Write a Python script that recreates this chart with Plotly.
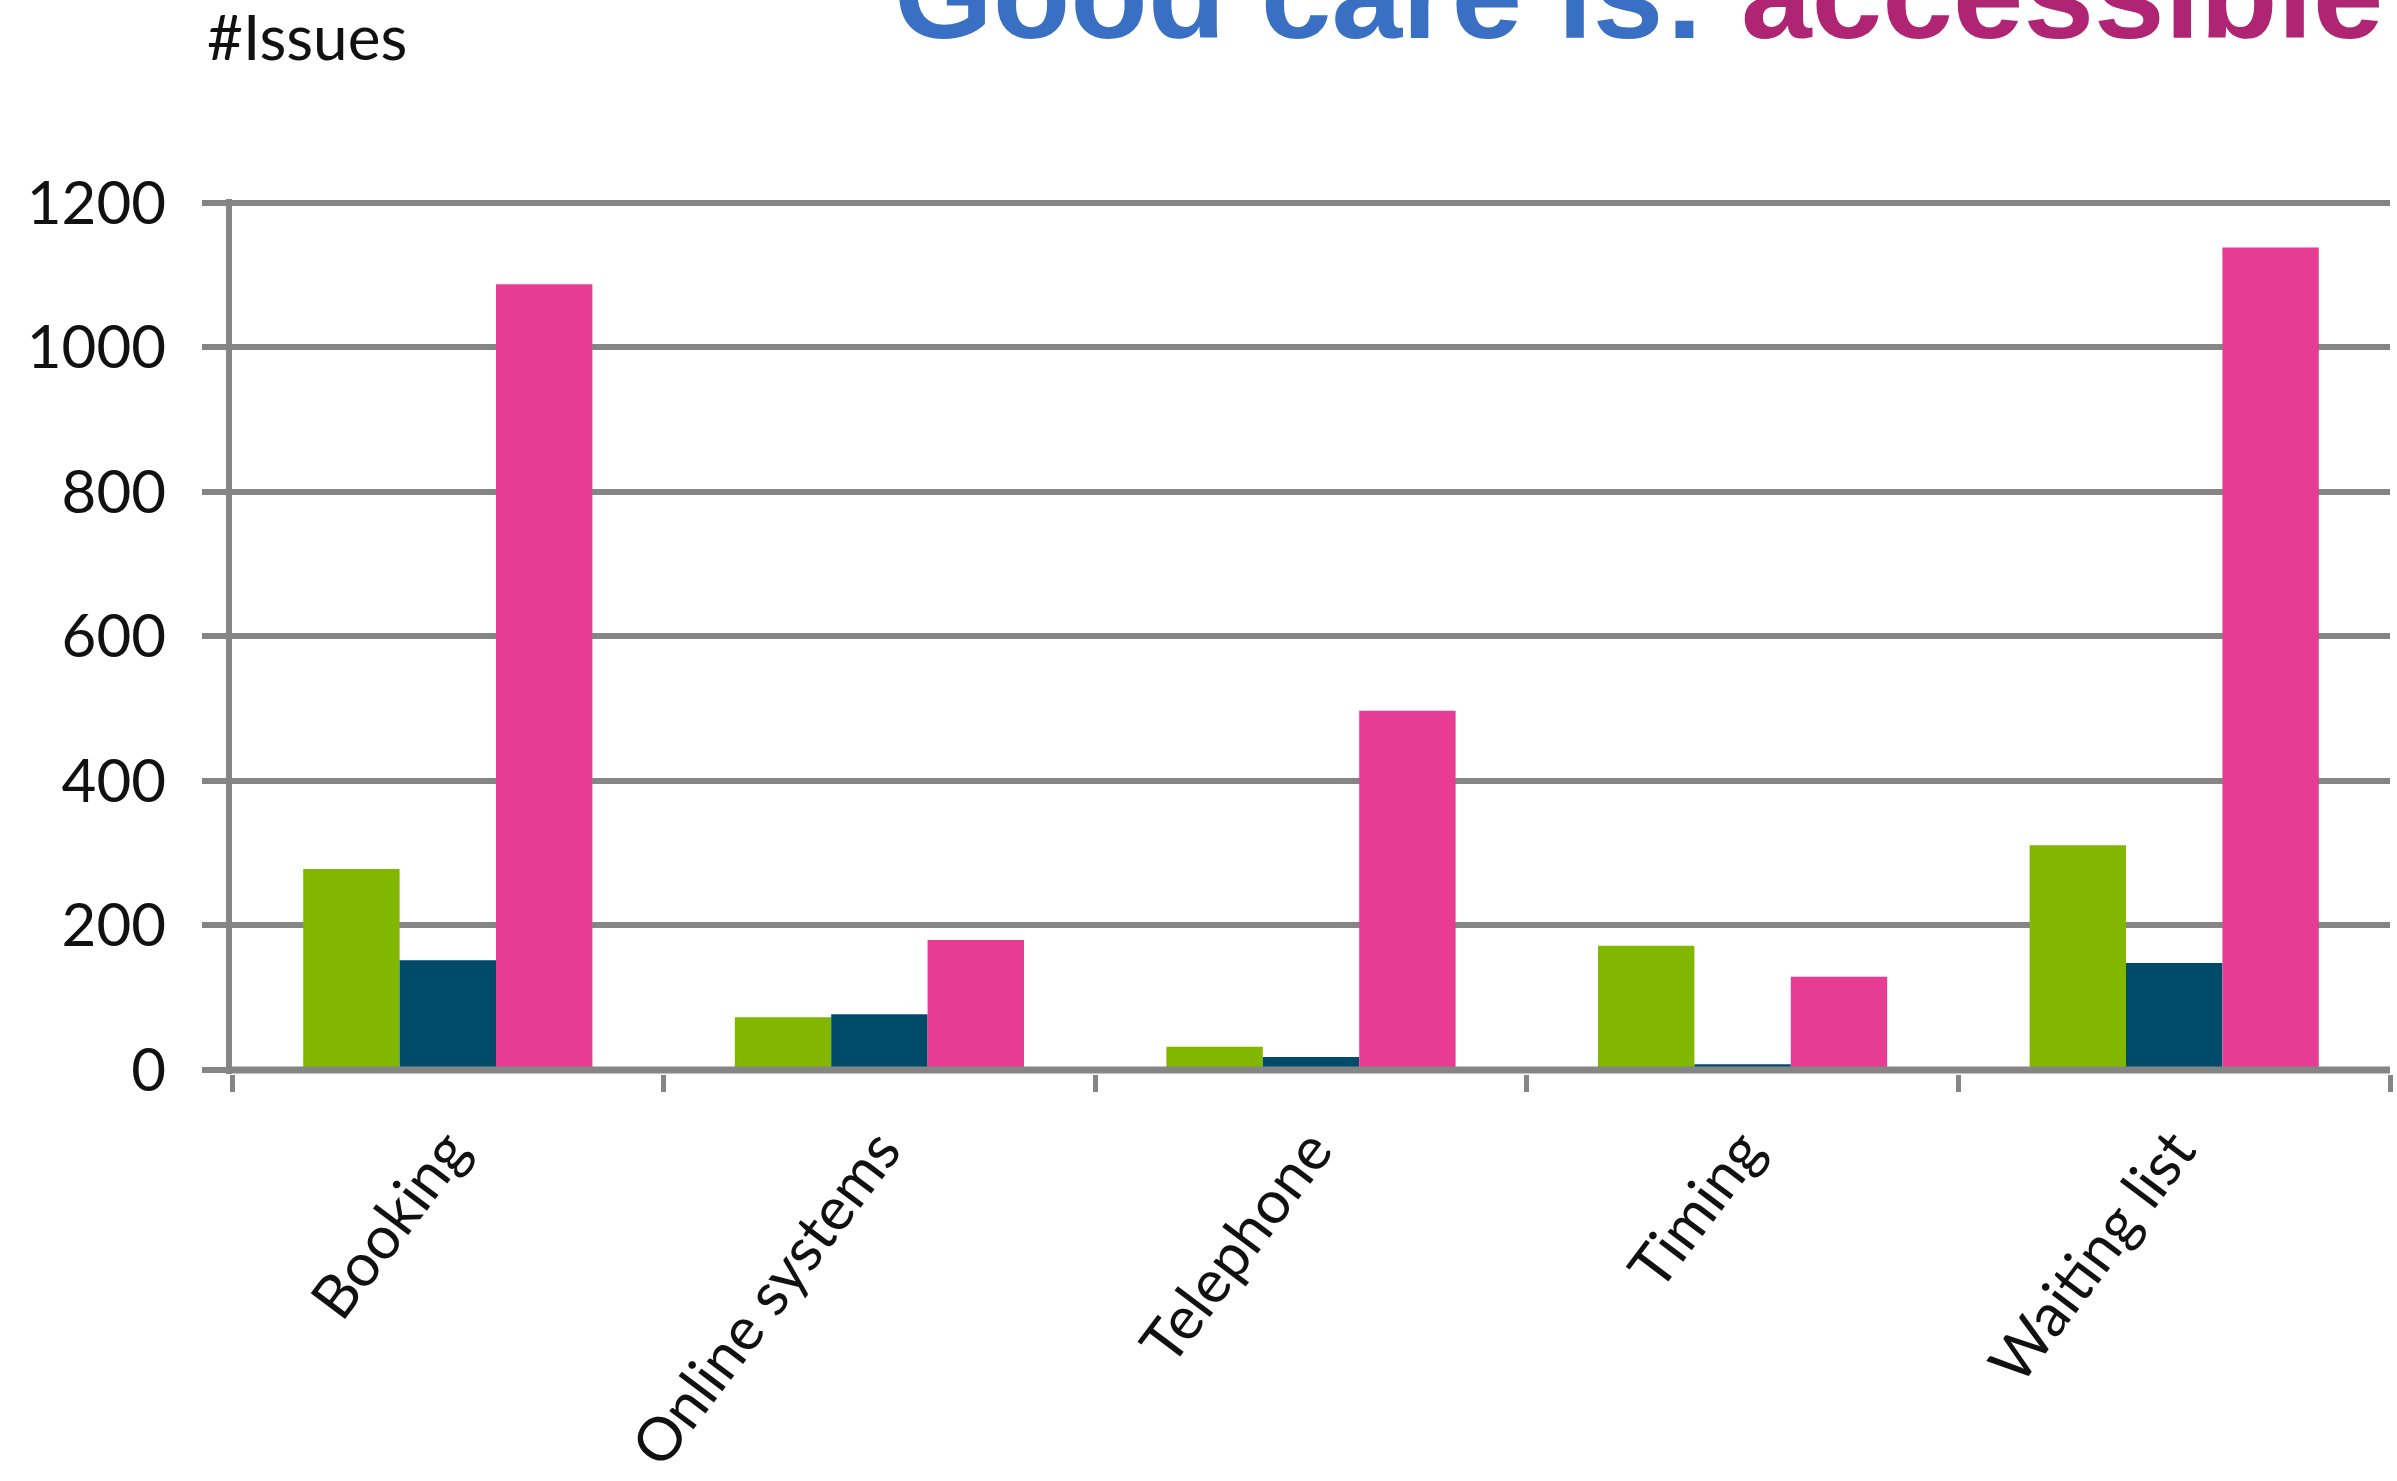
import plotly.graph_objects as go

# Issue counts per access theme, split by sentiment
categories = ["Booking", "Online systems", "Telephone", "Timing", "Waiting list"]
positive = [278, 73, 32, 172, 311]
neutral = [152, 77, 18, 8, 148]
negative = [1087, 180, 497, 129, 1138]

y_ticks = [0, 200, 400, 600, 800, 1000, 1200]

GREEN = "#82B700"
NAVY = "#004B6A"
PINK = "#E63C94"
GRID = "#858585"
BLUE_TITLE = "#3A70C3"
MAGENTA_TITLE = "#AF2473"

W, H = 2397, 1481
M_L, M_R, M_T, M_B = 232, 7, 199, 407
plot_w = W - M_L - M_R
plot_h = H - M_T - M_B

fig = go.Figure()
for name, vals, col in [("Positive", positive, GREEN),
                        ("Neutral", neutral, NAVY),
                        ("Negative", negative, PINK)]:
    fig.add_trace(go.Bar(x=categories, y=vals, name=name,
                         marker=dict(color=col, line=dict(width=0))))

# baseline drawn over the bars
fig.add_shape(type="line", xref="paper", yref="y", x0=0, x1=1, y0=0, y1=0,
              line=dict(color=GRID, width=7), layer="above")

fig.update_layout(
    width=W, height=H,
    margin=dict(l=M_L, r=M_R, t=M_T, b=M_B, autoexpand=False),
    paper_bgcolor="white", plot_bgcolor="white",
    barmode="group", bargap=0.33, bargroupgap=0,
    showlegend=False,
    font=dict(family="Lato", color="#111111"),
    xaxis=dict(
        type="category", range=[-0.5, 4.5],
        showgrid=False, zeroline=False, showline=False,
        ticks="outside", tickson="boundaries", ticklen=17, tickwidth=5,
        tickcolor=GRID, tickangle=-53, ticklabelstandoff=28,
        tickfont=dict(family="Lato", size=60, color="#111111"),
    ),
    yaxis=dict(
        range=[-5.53, 1205.1], tickvals=y_ticks,
        showgrid=True, gridcolor=GRID, gridwidth=6,
        zeroline=False, showline=True, linecolor=GRID, linewidth=6,
        ticks="outside", ticklen=24, tickwidth=6, tickcolor=GRID,
        ticklabelstandoff=24,
        tickfont=dict(family="Lato", size=60, color="#111111"),
    ),
)

fig.add_annotation(
    text=(f"<b><span style='color:{BLUE_TITLE}'>Good care is: </span>"
          f"<span style='color:{MAGENTA_TITLE}'>accessible</span></b>"),
    xref="paper", yref="paper", x=(892 - M_L) / plot_w, y=1 + (M_T - 67) / plot_h,
    xanchor="left", yanchor="bottom", showarrow=False,
    font=dict(family="Liberation Sans", size=127),
)
fig.add_annotation(
    text="#Issues",
    xref="paper", yref="paper", x=(205 - M_L) / plot_w, y=1 + (M_T - 75) / plot_h,
    xanchor="left", yanchor="bottom", showarrow=False,
    font=dict(family="Lato", size=62, color="#111111"),
)

fig.write_html("out.html")
